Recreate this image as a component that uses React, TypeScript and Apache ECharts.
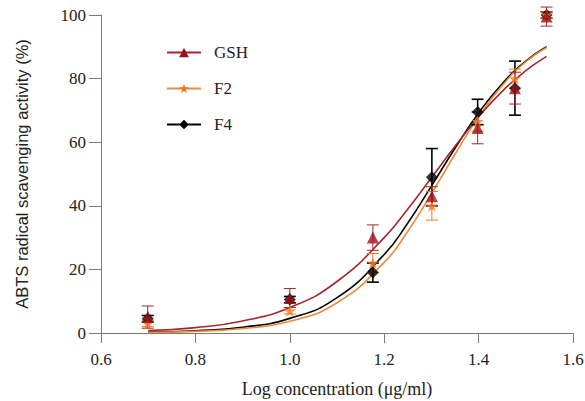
import React, { useEffect, useRef } from "react";
import * as echarts from "echarts";

// x = log concentration
const xPoints = [0.699, 1.0, 1.176, 1.301, 1.398, 1.477, 1.544];

const gshMean = [5, 11, 30, 43, 64.5, 77, 99.5];
const gshErr = [3.5, 3, 4, 3, 5, 5, 3];
const f2Mean = [3, 7, 22, 40, 66.5, 80, 100];
const f2Err = [1, 1, 3, 4.5, 3, 3, 1];
const f4Mean = [4.5, 10.5, 19, 49, 69.5, 77, 100];
const f4Err = [1, 1, 3, 9, 4, 8.5, 1];

// fitted curves
const curveX = [0.7, 0.8, 0.9, 1.0, 1.1, 1.2, 1.25, 1.3, 1.35, 1.4, 1.45, 1.5, 1.544];
const gshCurve = [0.8, 1.7, 3.8, 8.0, 16.2, 30.0, 39.0, 48.8, 58.7, 67.9, 76.0, 82.5, 87.0];
const f2Curve = [0.2, 0.5, 1.4, 3.7, 9.5, 22.2, 32.0, 43.8, 56.2, 68.0, 77.8, 85.3, 89.8];
const f4Curve = [0.3, 0.7, 1.8, 4.6, 11.1, 24.7, 34.6, 46.2, 58.1, 69.2, 78.4, 85.5, 90.0];

const xTicks = { min: 0.6, max: 1.6, interval: 0.2 };
const yTicks = { min: 0, max: 100, interval: 20 };

const STAR =
  "path://M50 0 L61.23 34.55 L97.55 34.55 L68.16 55.9 L79.39 90.45 L50 69.1 L20.61 90.45 L31.84 55.9 L2.45 34.55 L38.77 34.55 Z";

const SERIF = "'Liberation Serif', 'Times New Roman', serif";
const SANS = "'Liberation Sans', Arial, sans-serif";

const GSH_C = "#9c1216";
const GSH_L = "#a3282c";
const F2_C = "#f07a22";
const F2_L = "#ef8b3c";
const F4_C = "#000000";

function pairs(xs: number[], ys: number[]) {
  return xs.map((x, i) => [x, ys[i]]);
}
function errData(mean: number[], err: number[]) {
  return xPoints.map((x, i) => [x, mean[i] - err[i], mean[i] + err[i]]);
}

function errSeries(name: string, mean: number[], err: number[], color: string, w: number) {
  return {
    type: "custom",
    name,
    data: errData(mean, err),
    encode: { x: 0, y: [1, 2] },
    z: 3,
    renderItem: (_p: any, api: any) => {
      const x = api.value(0);
      const lo = api.coord([x, api.value(1)]);
      const hi = api.coord([x, api.value(2)]);
      const hw = 6;
      const style = { stroke: color, lineWidth: w };
      return {
        type: "group",
        children: [
          { type: "line", shape: { x1: lo[0], y1: lo[1], x2: hi[0], y2: hi[1] }, style },
          { type: "line", shape: { x1: lo[0] - hw, y1: lo[1], x2: lo[0] + hw, y2: lo[1] }, style },
          { type: "line", shape: { x1: hi[0] - hw, y1: hi[1], x2: hi[0] + hw, y2: hi[1] }, style },
        ],
      };
    },
  };
}

export default function App() {
  const ref = useRef<HTMLDivElement>(null);
  useEffect(() => {
    document.body.style.margin = "0";
    const chart = echarts.init(ref.current!, undefined, { renderer: "svg" });
    const axisLine = { show: true, lineStyle: { color: "#7a7a7a", width: 1 } };
    chart.setOption({
      animation: false,
      backgroundColor: "#ffffff",
      grid: { left: 101, right: 12, top: 15, bottom: 68, containLabel: false, outerBoundsMode: "none" },
      legend: {
        orient: "vertical",
        left: 161,
        top: 39,
        itemWidth: 34,
        itemHeight: 12,
        itemGap: 19,
        data: ["GSH", "F2", "F4"],
        textStyle: { fontFamily: SERIF, fontSize: 17, color: "#222", padding: [0, 0, 0, 8] },
      },
      xAxis: {
        type: "value",
        min: xTicks.min,
        max: xTicks.max,
        interval: xTicks.interval,
        name: "Log concentration (\u03bcg/ml)",
        nameLocation: "middle",
        nameGap: 47,
        nameTextStyle: { fontFamily: SERIF, fontSize: 18, color: "#222" },
        axisLine,
        axisTick: { show: true, length: 10, lineStyle: { color: "#7a7a7a" } },
        axisLabel: {
          margin: 18,
          fontFamily: SERIF,
          fontSize: 17,
          color: "#222",
          formatter: (v: number) => v.toFixed(1),
        },
        splitLine: { show: false },
      },
      yAxis: {
        type: "value",
        min: yTicks.min,
        max: yTicks.max,
        interval: yTicks.interval,
        name: "ABTS radical scavenging activity (%)",
        nameLocation: "middle",
        nameGap: 71,
        nameTextStyle: { fontFamily: SANS, fontSize: 16.5, color: "#222" },
        axisLine,
        axisTick: { show: true, length: 12, lineStyle: { color: "#7a7a7a" } },
        axisLabel: { margin: 15, fontFamily: SERIF, fontSize: 17, color: "#222" },
        splitLine: { show: false },
      },
      series: [
        {
          type: "line",
          name: "F4",
          data: pairs(curveX, f4Curve),
          smooth: true,
          showSymbol: false,
          symbol: "diamond",
          symbolSize: 11,
          itemStyle: { color: F4_C },
          lineStyle: { color: F4_C, width: 1.6 },
          z: 2,
        },
        {
          type: "line",
          name: "F2",
          data: pairs(curveX, f2Curve),
          smooth: true,
          showSymbol: false,
          symbol: STAR,
          symbolSize: 12,
          itemStyle: { color: F2_C },
          lineStyle: { color: F2_L, width: 1.6 },
          z: 2,
        },
        {
          type: "line",
          name: "GSH",
          data: pairs(curveX, gshCurve),
          smooth: true,
          showSymbol: false,
          symbol: "triangle",
          symbolSize: 11,
          itemStyle: { color: GSH_C },
          lineStyle: { color: GSH_L, width: 1.6 },
          z: 2,
        },
        errSeries("F4", f4Mean, f4Err, F4_C, 1.6),
        errSeries("F2", f2Mean, f2Err, F2_C, 1),
        errSeries("GSH", gshMean, gshErr, GSH_L, 1),
        {
          type: "scatter",
          name: "F4",
          data: pairs(xPoints, f4Mean),
          symbol: "diamond",
          symbolSize: 12,
          itemStyle: { color: F4_C },
          z: 4,
        },
        {
          type: "scatter",
          name: "F2",
          data: pairs(xPoints, f2Mean),
          symbol: STAR,
          symbolSize: 12,
          itemStyle: { color: F2_C },
          z: 5,
        },
        {
          type: "scatter",
          name: "GSH",
          data: pairs(xPoints, gshMean),
          symbol: "triangle",
          symbolSize: 12,
          itemStyle: { color: GSH_C },
          z: 6,
        },
      ],
    });
    return () => chart.dispose();
  }, []);
  return <div ref={ref} style={{ width: 585, height: 401 }} />;
}
